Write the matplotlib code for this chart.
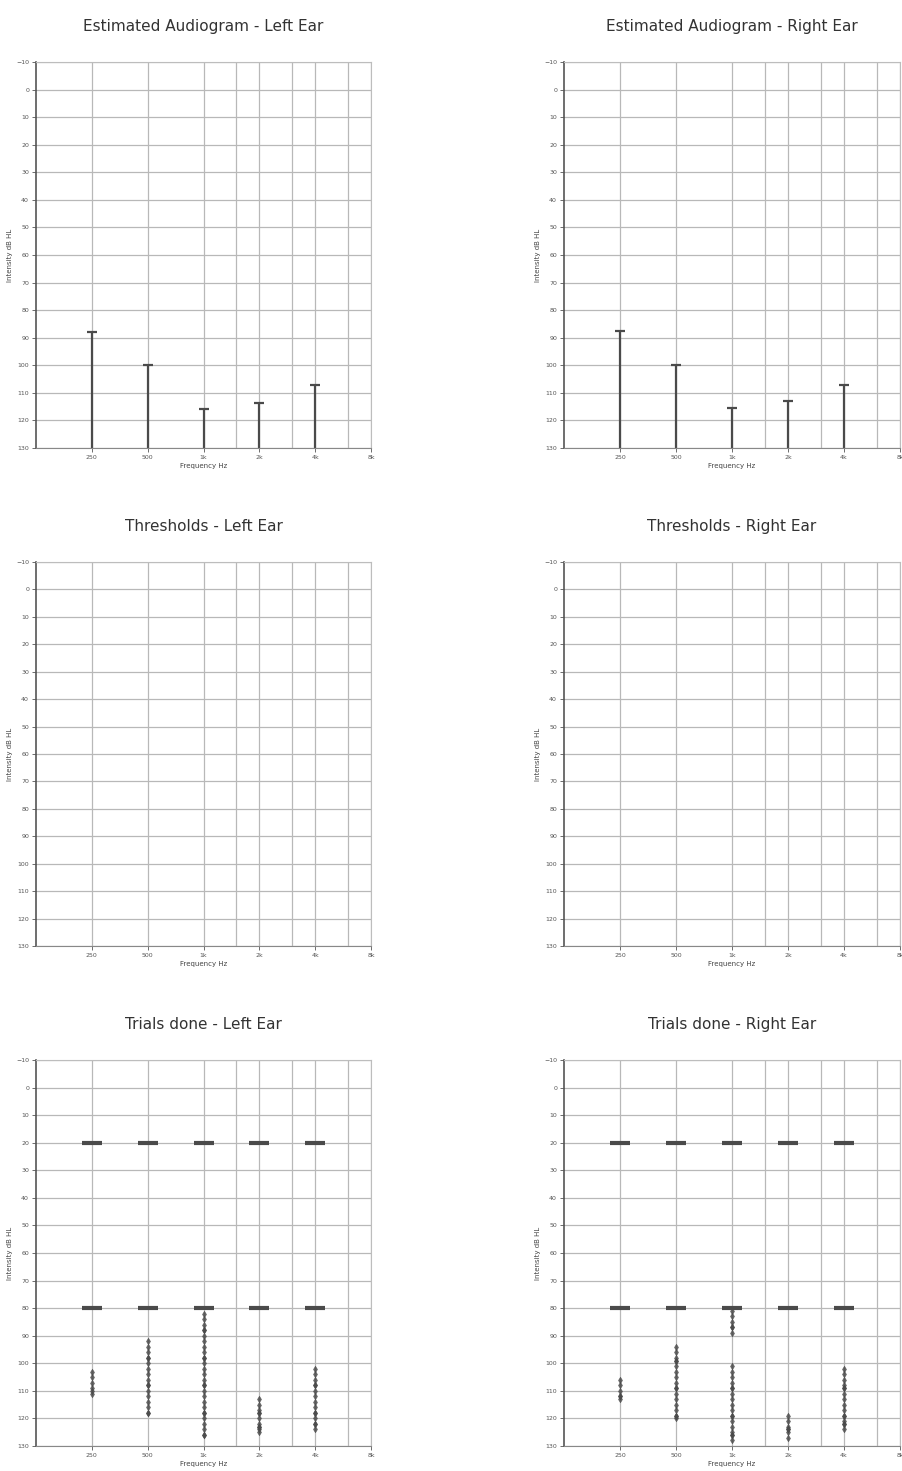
import numpy as np
import matplotlib
matplotlib.use('Agg')
import matplotlib.pyplot as plt

# audiometric test frequencies (Hz)
freqs = [250, 500, 1000, 2000, 4000]
freq_ticks = [250, 500, 1000, 2000, 4000, 8000]
freq_labels = ['250', '500', '1k', '2k', '4k', '8k']
freq_minor = [1500, 3000, 6000]
db_ticks = list(range(-10, 140, 10))

# estimated thresholds (dB HL)
est_left = [88, 100, 116, 113.5, 107]
est_right = [87.5, 100, 115.5, 113, 107]

# presented levels per frequency (dB HL)
trials_left = {
	250: [20, 80, 103, 105, 107, 109, 110, 111],
	500: [20, 80, 92, 94, 96, 98, 98, 100, 102, 104, 106, 108, 108, 110, 112, 114, 116, 118, 118],
	1000: [20, 80, 82, 84, 86, 88, 88, 90, 92, 94, 96, 98, 98, 100, 102, 104, 106, 108, 108,
		110, 112, 114, 116, 118, 118, 120, 122, 124, 126, 126],
	2000: [20, 80, 113, 115, 117, 118, 118, 120, 122, 123, 123, 124, 125],
	4000: [20, 80, 102, 104, 106, 108, 108, 110, 112, 114, 116, 118, 118, 120, 122, 122, 124],
}
trials_right = {
	250: [20, 80, 106, 108, 110, 112, 112, 113],
	500: [20, 80, 94, 96, 98, 99, 99, 101, 103, 105, 107, 109, 109, 111, 113, 115, 117, 119, 119, 120],
	1000: [20, 80, 81, 83, 85, 87, 87, 89, 101, 103, 105, 107, 109, 109, 111, 113, 115, 117,
		119, 119, 121, 123, 125, 126, 126, 128],
	2000: [20, 80, 119, 121, 123, 124, 124, 125, 127],
	4000: [20, 80, 102, 104, 106, 108, 109, 109, 111, 113, 115, 117, 119, 119, 121, 122, 122, 124],
}

W, H = 902, 1471
fig = plt.figure(figsize=(W / 100, H / 100), dpi=100)

ink = '#4a4a4a'


def px_axes(x0, y0, x1, y1):
	return fig.add_axes([x0 / W, 1 - y1 / H, (x1 - x0) / W, (y1 - y0) / H])


def setup(ax, title):
	ax.set_xscale('log')
	ax.set_xlim(125, 8000)
	ax.set_ylim(130, -10)
	ax.set_xticks(freq_ticks)
	ax.set_xticklabels(freq_labels)
	ax.set_xticks(freq_minor, minor=True)
	ax.xaxis.set_minor_formatter(matplotlib.ticker.NullFormatter())
	ax.set_yticks(db_ticks)
	ax.tick_params(axis='both', which='major', labelsize=4.5, colors='#555555', length=3, width=0.6, pad=2)
	ax.tick_params(axis='x', which='minor', length=0)
	ax.grid(True, which='major', color='#b8b8b8', lw=0.9)
	ax.grid(True, which='minor', axis='x', color='#b8b8b8', lw=0.9)
	for s in ax.spines.values():
		s.set_color('#bdbdbd')
		s.set_linewidth(0.8)
	ax.spines['left'].set_color('#555555')
	ax.spines['left'].set_linewidth(1.2)
	ax.spines['bottom'].set_color('#888888')
	ax.set_xlabel('Frequency Hz', fontsize=5, color='#444444', labelpad=2)
	ax.set_ylabel('Intensity dB HL', fontsize=5, color='#444444', labelpad=2)
	ax.set_title(title, fontsize=11, color='#333333', pad=22)
	ax.set_axisbelow(True)


def draw_estimate(ax, values):
	ax.vlines(freqs, 130, values, color=ink, lw=1.6)
	ax.plot(freqs, values, ls='none', marker='_', ms=7, mew=1.6, color=ink)


def draw_trials(ax, trials):
	for f in freqs:
		lv = np.array(trials[f], dtype=float)
		wide = lv[(lv == 20) | (lv == 80)]
		rest = lv[(lv != 20) & (lv != 80)]
		ax.plot([f] * len(wide), wide, ls='none', marker='_', ms=14, mew=3, color=ink)
		ax.plot([f] * len(rest), rest, ls='none', marker='d', ms=3.5, mew=0.3, color=ink, alpha=0.85)


left_x = (36, 371)
right_x = (564, 900)
rows_y = [(62, 448), (562, 946), (1060, 1446)]

ax = px_axes(left_x[0], rows_y[0][0], left_x[1], rows_y[0][1])
setup(ax, 'Estimated Audiogram - Left Ear')
draw_estimate(ax, est_left)

ax = px_axes(right_x[0], rows_y[0][0], right_x[1], rows_y[0][1])
setup(ax, 'Estimated Audiogram - Right Ear')
draw_estimate(ax, est_right)

ax = px_axes(left_x[0], rows_y[1][0], left_x[1], rows_y[1][1])
setup(ax, 'Thresholds - Left Ear')

ax = px_axes(right_x[0], rows_y[1][0], right_x[1], rows_y[1][1])
setup(ax, 'Thresholds - Right Ear')

ax = px_axes(left_x[0], rows_y[2][0], left_x[1], rows_y[2][1])
setup(ax, 'Trials done - Left Ear')
draw_trials(ax, trials_left)

ax = px_axes(right_x[0], rows_y[2][0], right_x[1], rows_y[2][1])
setup(ax, 'Trials done - Right Ear')
draw_trials(ax, trials_right)

fig.savefig('out.png', dpi=100, facecolor='white')
